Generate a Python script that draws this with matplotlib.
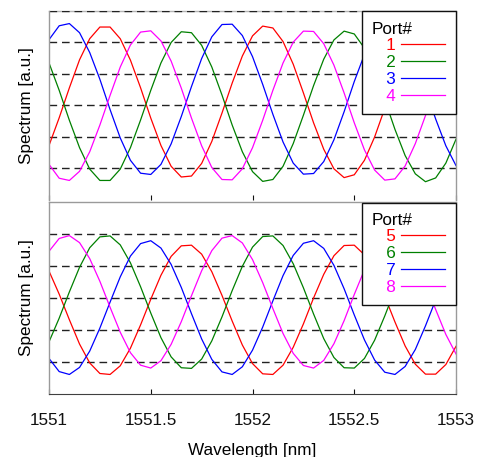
import numpy as np
import matplotlib
matplotlib.use("Agg")
from matplotlib import pyplot as plt

plt.rcParams["font.family"] = ["Liberation Sans", "DejaVu Sans"]
plt.rcParams["font.size"] = 12.3

# sample positions (nm)
wavelength = np.linspace(1551.0, 1553.0, 41)

# upper panel, ports 1-4 (a.u.)
port1 = [1.73, 2.61, 3.56, 4.45, 5.12, 5.49, 5.49, 5.12, 4.44, 3.56, 2.60, 1.73, 1.07, 0.73,
         0.76, 1.16, 1.86, 2.76, 3.71, 4.57, 5.21, 5.52, 5.46, 5.03, 4.31, 3.40, 2.45, 1.61,
         0.99, 0.71, 0.80, 1.26, 2.00, 2.91, 3.86, 4.69, 5.28, 5.53, 5.41, 4.93, 4.17]
port2 = [4.35, 3.48, 2.53, 1.66, 0.98, 0.62, 0.62, 0.98, 1.66, 2.54, 3.48, 4.35, 5.00, 5.34,
         5.31, 4.91, 4.22, 3.33, 2.38, 1.53, 0.90, 0.59, 0.65, 1.07, 1.79, 2.69, 3.63, 4.47,
         5.08, 5.36, 5.27, 4.82, 4.08, 3.18, 2.24, 1.41, 0.83, 0.58, 0.70, 1.17, 1.93]
port3 = [5.09, 5.53, 5.60, 5.31, 4.68, 3.83, 2.87, 1.97, 1.26, 0.85, 0.81, 1.13, 1.78, 2.65,
         3.60, 4.49, 5.18, 5.57, 5.58, 5.22, 4.55, 3.67, 2.72, 1.84, 1.17, 0.82, 0.84, 1.22,
         1.91, 2.80, 3.76, 4.62, 5.27, 5.59, 5.55, 5.13, 4.42, 3.52, 2.57, 1.72, 1.09]
port4 = [1.13, 0.69, 0.62, 0.91, 1.53, 2.38, 3.32, 4.22, 4.92, 5.33, 5.37, 5.05, 4.41, 3.55,
         2.60, 1.72, 1.03, 0.65, 0.64, 0.99, 1.66, 2.53, 3.48, 4.35, 5.01, 5.36, 5.35, 4.96,
         4.28, 3.40, 2.45, 1.59, 0.95, 0.63, 0.67, 1.08, 1.79, 2.68, 3.63, 4.47, 5.09]

# lower panel, ports 5-8
port5 = [3.84, 3.12, 2.32, 1.56, 0.97, 0.64, 0.61, 0.88, 1.43, 2.16, 2.96, 3.71, 4.30, 4.63,
         4.65, 4.37, 3.82, 3.08, 2.28, 1.53, 0.95, 0.63, 0.61, 0.90, 1.46, 2.19, 3.00, 3.74,
         4.32, 4.64, 4.65, 4.35, 3.79, 3.05, 2.25, 1.50, 0.93, 0.62, 0.62, 0.92, 1.49]
port6 = [1.63, 2.37, 3.19, 3.96, 4.57, 4.91, 4.94, 4.66, 4.10, 3.35, 2.53, 1.76, 1.16, 0.82,
         0.80, 1.09, 1.66, 2.41, 3.23, 3.99, 4.59, 4.92, 4.94, 4.64, 4.07, 3.32, 2.50, 1.73,
         1.14, 0.82, 0.81, 1.11, 1.68, 2.44, 3.26, 4.02, 4.61, 4.93, 4.93, 4.62, 4.04]
port7 = [1.11, 0.70, 0.61, 0.83, 1.34, 2.06, 2.87, 3.66, 4.31, 4.70, 4.79, 4.56, 4.05, 3.33,
         2.51, 1.72, 1.08, 0.69, 0.61, 0.85, 1.37, 2.09, 2.91, 3.70, 4.33, 4.71, 4.79, 4.55,
         4.02, 3.29, 2.47, 1.69, 1.06, 0.68, 0.61, 0.86, 1.39, 2.13, 2.94, 3.73, 4.35]
port8 = [4.46, 4.86, 4.95, 4.73, 4.23, 3.52, 2.71, 1.93, 1.29, 0.90, 0.81, 1.04, 1.55, 2.26,
         3.07, 3.85, 4.48, 4.87, 4.95, 4.72, 4.20, 3.48, 2.67, 1.89, 1.27, 0.89, 0.81, 1.05,
         1.57, 2.29, 3.11, 3.88, 4.50, 4.88, 4.95, 4.70, 4.17, 3.45, 2.64, 1.86, 1.25]

colors = ["#ff0000", "#008000", "#0000ff", "#ff00ff"]
xticks = [1551, 1551.5, 1552, 1552.5, 1553]
xticklabels = ["1551", "1551.5", "1552", "1552.5", "1553"]


def style_axes(ax, grid_levels):
    ax.set_xlim(1551, 1553)
    ax.set_ylim(0, 6)
    ax.set_yticks(grid_levels)
    ax.set_yticklabels([])
    ax.tick_params(axis="y", length=0)
    ax.tick_params(axis="x", direction="in", length=3.6, width=0.8, colors="#111111")
    ax.set_xticks(xticks)
    ax.yaxis.grid(True, color="#222222", linestyle=(0, (5.5, 3.5)), linewidth=1.0)
    for side in ["left", "right", "top"]:
        ax.spines[side].set_color("#9a9a9a")
        ax.spines[side].set_linewidth(1.0)
    ax.spines["top"].set_zorder(1.0)
    ax.set_ylabel("Spectrum [a.u.]")
    ax.yaxis.set_label_coords(-0.037, 0.5)


def add_legend(ax):
    leg = ax.legend(title="Port#", loc="upper right", bbox_to_anchor=(1.0, 1.0),
                    borderaxespad=0.03, markerfirst=False, fancybox=False,
                    framealpha=1.0, edgecolor="#111111", handlelength=2.6,
                    handletextpad=0.3, borderpad=0.6, labelspacing=0.1,
                    alignment="left")
    leg.get_frame().set_linewidth(1.0)
    for txt, c in zip(leg.get_texts(), colors):
        txt.set_color(c)
    return leg


fig = plt.figure(figsize=(4.82, 4.57), dpi=100)
ax_top = fig.add_axes([0.1017, 0.5624, 0.8444, 0.4136])
ax_bot = fig.add_axes([0.1017, 0.1379, 0.8444, 0.4201])

style_axes(ax_top, [1, 2, 3, 4, 5, 6])
ax_top.spines["bottom"].set_visible(False)
ax_top.set_xticklabels([])
ax_top.spines["top"].set_color("#b5b5b5")

style_axes(ax_bot, [1, 2, 3, 4, 5])
ax_bot.spines["bottom"].set_color("#404040")
ax_bot.set_xticklabels(xticklabels)
ax_bot.tick_params(axis="x", pad=14)
ax_bot.set_xlabel("Wavelength [nm]")
ax_bot.xaxis.set_label_coords(0.5, -0.255)

for i, series in enumerate([port1, port2, port3, port4]):
    ax_top.plot(wavelength, series, color=colors[i], linewidth=0.9, label="   " + str(i + 1))
for i, series in enumerate([port5, port6, port7, port8]):
    ax_bot.plot(wavelength, series, color=colors[i], linewidth=0.9, label="   " + str(i + 5))

add_legend(ax_top)
add_legend(ax_bot)

fig.savefig("out.png", dpi=100)
